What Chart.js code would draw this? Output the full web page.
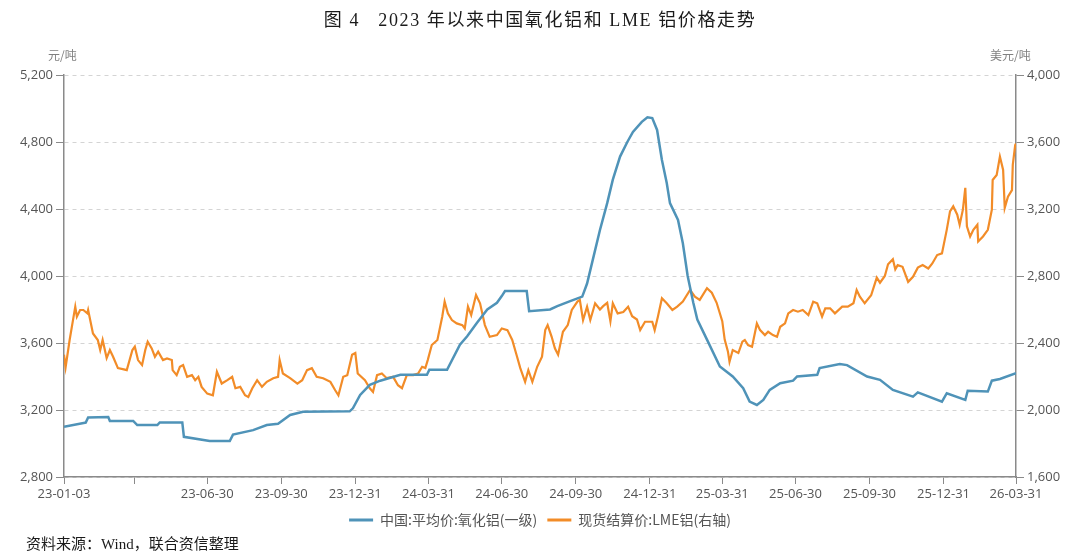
<!DOCTYPE html>
<html>
<head>
<meta charset="utf-8">
<script src="https://cdn.jsdelivr.net/npm/chart.js@4.4.1/dist/chart.umd.min.js"></script>
<style>
  html, body { margin: 0; padding: 0; background: #fff; }
  #wrap { position: relative; width: 1080px; height: 557px; overflow: hidden; }
  #chart { position: absolute; left: 0; top: 0; }
  .txt { position: absolute; white-space: nowrap; }
  #title { left: 0; width: 1080px; top: 5px; text-align: center; font-family: "Liberation Serif", "Noto Sans CJK SC", serif; font-size: 18px; color: #1a1a1a; letter-spacing: 1.6px; }
  #unitL { left: 48px; top: 46px; font-family: "Noto Sans CJK SC", sans-serif; font-size: 12px; color: #808080; }
  #unitR { left: 990px; top: 46px; font-family: "Noto Sans CJK SC", sans-serif; font-size: 12px; color: #808080; }
  #source { left: 26px; top: 532px; font-family: "Liberation Serif", "Noto Sans CJK SC", serif; font-size: 15px; color: #1a1a1a; }
</style>
</head>
<body>
<div id="wrap">
  <canvas id="chart" width="1080" height="557"></canvas>
  <div class="txt" id="title">图 4&nbsp;&nbsp;&nbsp;2023 年以来中国氧化铝和 LME 铝价格走势</div>
  <div class="txt" id="unitL">元/吨</div>
  <div class="txt" id="unitR">美元/吨</div>
  <div class="txt" id="source">资料来源：Wind，联合资信整理</div>
</div>
<script>
// ---------- data ----------
const seriesNames = ["中国:平均价:氧化铝(一级)", "现货结算价:LME铝(右轴)"];

const tickDates = ["2023-01-03","2023-03-31","2023-06-30","2023-09-30","2023-12-31","2024-03-31","2024-06-30","2024-09-30","2024-12-31","2025-03-31","2025-06-30","2025-09-30","2025-12-31","2026-03-31"];
const tickLabels = ["23-01-03","","23-06-30","23-09-30","23-12-31","24-03-31","24-06-30","24-09-30","24-12-31","25-03-31","25-06-30","25-09-30","25-12-31","26-03-31"];

const leftTicks = { min: 2800, max: 5200, step: 400 };
const rightTicks = { min: 1600, max: 4000, step: 400 };

const aluminaDates = ["2023-01-03","2023-01-29","2023-01-30","2023-02-02","2023-02-27","2023-03-01","2023-03-30","2023-04-04","2023-04-29","2023-05-02","2023-05-30","2023-06-01","2023-07-03","2023-07-28","2023-08-01","2023-08-26","2023-09-12","2023-09-26","2023-10-11","2023-10-27","2023-12-24","2023-12-28","2024-01-06","2024-01-18","2024-01-31","2024-02-25","2024-03-29","2024-04-01","2024-04-23","2024-05-09","2024-05-18","2024-05-30","2024-06-12","2024-06-24","2024-06-30","2024-07-04","2024-07-31","2024-08-03","2024-08-29","2024-09-07","2024-09-23","2024-10-08","2024-10-14","2024-10-21","2024-10-30","2024-11-08","2024-11-15","2024-11-24","2024-12-03","2024-12-10","2024-12-21","2024-12-28","2025-01-03","2025-01-09","2025-01-15","2025-01-21","2025-01-25","2025-02-04","2025-02-10","2025-02-16","2025-02-23","2025-02-28","2025-03-12","2025-03-28","2025-04-13","2025-04-26","2025-05-04","2025-05-13","2025-05-21","2025-05-29","2025-06-11","2025-06-27","2025-07-02","2025-07-27","2025-07-30","2025-08-24","2025-09-02","2025-09-27","2025-10-13","2025-10-29","2025-11-23","2025-11-29","2025-12-29","2026-01-04","2026-01-27","2026-01-30","2026-02-24","2026-03-01","2026-03-11","2026-03-31"];
const aluminaPrices = [3100,3124,3125,3155,3158,3135,3135,3110,3110,3126,3126,3040,3015,3015,3053,3080,3110,3118,3170,3190,3192,3210,3290,3350,3375,3410,3410,3440,3440,3590,3640,3720,3800,3840,3880,3910,3910,3790,3800,3820,3850,3877,3955,4095,4275,4435,4575,4713,4800,4860,4920,4948,4943,4872,4693,4555,4435,4335,4195,4000,3840,3740,3620,3460,3400,3330,3250,3230,3260,3320,3360,3375,3400,3410,3450,3475,3468,3400,3380,3320,3280,3305,3250,3300,3260,3315,3310,3375,3385,3420];

const lmeDates = ["2023-01-03","2023-01-05","2023-01-10","2023-01-17","2023-01-19","2023-01-23","2023-01-27","2023-02-01","2023-02-02","2023-02-08","2023-02-14","2023-02-17","2023-02-20","2023-02-25","2023-03-01","2023-03-05","2023-03-11","2023-03-17","2023-03-22","2023-03-29","2023-04-01","2023-04-05","2023-04-10","2023-04-14","2023-04-17","2023-04-22","2023-04-26","2023-04-30","2023-05-06","2023-05-11","2023-05-17","2023-05-18","2023-05-23","2023-05-27","2023-05-31","2023-06-05","2023-06-11","2023-06-15","2023-06-19","2023-06-23","2023-06-30","2023-07-07","2023-07-12","2023-07-18","2023-07-25","2023-07-31","2023-08-04","2023-08-10","2023-08-16","2023-08-20","2023-08-25","2023-08-31","2023-09-06","2023-09-12","2023-09-20","2023-09-26","2023-09-28","2023-10-02","2023-10-11","2023-10-20","2023-10-26","2023-11-01","2023-11-07","2023-11-13","2023-11-21","2023-11-30","2023-12-06","2023-12-10","2023-12-16","2023-12-21","2023-12-27","2023-12-31","2024-01-03","2024-01-12","2024-01-18","2024-01-22","2024-01-27","2024-02-02","2024-02-08","2024-02-16","2024-02-22","2024-02-27","2024-03-04","2024-03-12","2024-03-18","2024-03-23","2024-03-27","2024-03-30","2024-04-04","2024-04-11","2024-04-17","2024-04-20","2024-04-24","2024-04-29","2024-05-05","2024-05-12","2024-05-15","2024-05-19","2024-05-23","2024-05-29","2024-06-03","2024-06-09","2024-06-15","2024-06-24","2024-06-30","2024-07-07","2024-07-13","2024-07-19","2024-07-23","2024-07-29","2024-08-02","2024-08-07","2024-08-13","2024-08-19","2024-08-23","2024-08-26","2024-08-31","2024-09-04","2024-09-08","2024-09-14","2024-09-20","2024-09-25","2024-10-02","2024-10-05","2024-10-09","2024-10-14","2024-10-18","2024-10-24","2024-10-30","2024-11-03","2024-11-08","2024-11-12","2024-11-15","2024-11-21","2024-11-28","2024-12-04","2024-12-09","2024-12-15","2024-12-19","2024-12-25","2025-01-03","2025-01-06","2025-01-10","2025-01-15","2025-01-21","2025-01-28","2025-02-03","2025-02-10","2025-02-19","2025-02-25","2025-03-03","2025-03-12","2025-03-18","2025-03-24","2025-03-31","2025-04-03","2025-04-07","2025-04-09","2025-04-13","2025-04-20","2025-04-25","2025-04-28","2025-05-02","2025-05-07","2025-05-13","2025-05-17","2025-05-23","2025-05-27","2025-06-02","2025-06-07","2025-06-11","2025-06-17","2025-06-21","2025-06-27","2025-07-03","2025-07-09","2025-07-16","2025-07-22","2025-07-27","2025-08-02","2025-08-06","2025-08-12","2025-08-18","2025-08-27","2025-09-03","2025-09-10","2025-09-14","2025-09-18","2025-09-24","2025-10-02","2025-10-09","2025-10-13","2025-10-19","2025-10-23","2025-10-29","2025-11-01","2025-11-04","2025-11-10","2025-11-17","2025-11-23","2025-11-29","2025-12-05","2025-12-12","2025-12-17","2025-12-23","2025-12-29","2026-01-04","2026-01-08","2026-01-12","2026-01-17","2026-01-20","2026-01-24","2026-01-27","2026-01-29","2026-02-02","2026-02-06","2026-02-11","2026-02-12","2026-02-18","2026-02-24","2026-03-01","2026-03-02","2026-03-07","2026-03-11","2026-03-15","2026-03-17","2026-03-21","2026-03-26","2026-03-27","2026-03-30","2026-03-31"];
const lmePrices = [2330,2255,2418,2617,2557,2597,2597,2577,2597,2457,2418,2358,2418,2310,2358,2318,2250,2244,2238,2358,2378,2298,2268,2358,2408,2368,2318,2348,2298,2308,2298,2238,2208,2258,2268,2198,2208,2178,2198,2138,2098,2088,2228,2158,2178,2198,2130,2138,2088,2078,2130,2178,2138,2168,2190,2198,2298,2218,2190,2158,2178,2238,2250,2198,2190,2168,2118,2088,2198,2208,2330,2340,2218,2178,2130,2108,2208,2218,2190,2198,2148,2130,2208,2208,2218,2258,2250,2298,2388,2418,2557,2647,2577,2537,2517,2507,2487,2617,2567,2687,2637,2507,2437,2447,2487,2477,2418,2318,2250,2168,2238,2168,2258,2318,2477,2507,2437,2368,2330,2467,2507,2597,2647,2657,2537,2617,2537,2637,2600,2620,2640,2530,2637,2577,2585,2617,2560,2540,2477,2527,2527,2477,2557,2667,2637,2597,2617,2647,2717,2677,2657,2727,2700,2640,2530,2420,2350,2288,2358,2340,2408,2418,2388,2378,2517,2477,2447,2467,2447,2437,2497,2517,2577,2597,2587,2597,2567,2647,2637,2557,2607,2607,2577,2617,2617,2637,2717,2677,2637,2685,2790,2760,2800,2870,2900,2840,2865,2855,2765,2795,2850,2865,2845,2875,2925,2935,3077,3186,3216,3166,3106,3196,3326,3096,3036,3076,3106,3006,3036,3076,3196,3373,3403,3513,3433,3206,3273,3313,3463,3582,3590];

// ---------- helpers ----------
const START = Date.UTC(2023, 0, 3);
function dayOf(s) {
  const [y, m, d] = s.split("-").map(Number);
  return Math.round((Date.UTC(y, m - 1, d) - START) / 86400000);
}
function toPoints(dates, vals) { return dates.map((d, i) => ({ x: dayOf(d), y: vals[i] })); }
const fmt = v => Number(v).toLocaleString("en-US");

const BLUE = "#4f93b8";
const ORANGE = "#f28c28";
const AXIS = "#8a8a8a";
const GRID = "#d4d4d4";
const TICKFONT = { family: "'Open Sans', 'Noto Sans CJK SC', sans-serif", size: 13 };

new Chart(document.getElementById("chart"), {
  type: "line",
  data: {
    datasets: [
      { label: seriesNames[0], data: toPoints(aluminaDates, aluminaPrices), borderColor: BLUE, backgroundColor: BLUE, borderWidth: 2.5, pointRadius: 0, tension: 0, yAxisID: "y" },
      { label: seriesNames[1], data: toPoints(lmeDates, lmePrices), borderColor: ORANGE, backgroundColor: ORANGE, borderWidth: 2.2, pointRadius: 0, tension: 0, yAxisID: "y1" }
    ]
  },
  options: {
    responsive: false,
    animation: false,
    parsing: true,
    layout: { padding: { top: 75, left: 0, right: 0, bottom: 20 } },
    plugins: {
      title: { display: false },
      tooltip: { enabled: false },
      legend: {
        position: "bottom",
        labels: {
          boxWidth: 24, boxHeight: 3, padding: 10,
          color: "#555", font: { family: "'Noto Sans CJK SC', sans-serif", size: 14 },
          generateLabels(chart) {
            return chart.data.datasets.map((ds, i) => ({
              text: ds.label, fillStyle: ds.borderColor, strokeStyle: ds.borderColor,
              lineWidth: 0, hidden: false, datasetIndex: i, fontColor: "#555"
            }));
          }
        }
      }
    },
    scales: {
      x: {
        type: "linear",
        min: 0,
        max: dayOf(tickDates[tickDates.length - 1]),
        afterBuildTicks(scale) { scale.ticks = tickDates.map(d => ({ value: dayOf(d) })); },
        afterFit(scale) { scale.height = 26; },
        ticks: {
          autoSkip: false, maxRotation: 0, minRotation: 0, padding: 2,
          color: "#555", font: TICKFONT,
          callback: (v, i) => tickLabels[i]
        },
        grid: { drawOnChartArea: false, tickLength: 7, tickColor: AXIS, tickWidth: 1 },
        border: { color: AXIS, width: 1.5 }
      },
      y: {
        position: "left",
        min: leftTicks.min, max: leftTicks.max,
        afterFit(scale) { scale.width = 64; },
        ticks: { stepSize: leftTicks.step, color: "#555", font: TICKFONT, padding: 3, callback: v => fmt(v) },
        grid: { color: GRID, lineWidth: 1, tickLength: 8, tickColor: AXIS, tickWidth: 1 },
        border: { color: AXIS, width: 1.5, dash: [4, 4] }
      },
      y1: {
        position: "right",
        min: rightTicks.min, max: rightTicks.max,
        afterFit(scale) { scale.width = 64; },
        ticks: { stepSize: rightTicks.step, color: "#555", font: TICKFONT, padding: 3, callback: v => fmt(v) },
        grid: { drawOnChartArea: false, tickLength: 8, tickColor: AXIS, tickWidth: 1 },
        border: { color: AXIS, width: 1.5 }
      }
    }
  }
});
</script>
</body>
</html>
